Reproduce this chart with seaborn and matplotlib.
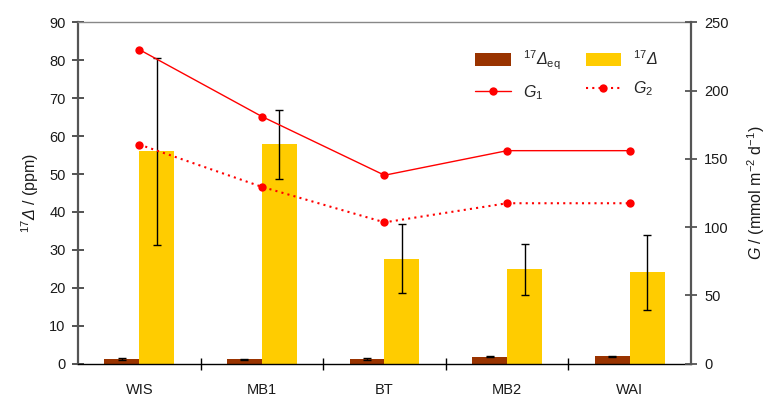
import numpy as np
import pandas as pd
import matplotlib
matplotlib.use("Agg")
import matplotlib.pyplot as plt
from matplotlib.patches import Patch
from matplotlib.lines import Line2D
import seaborn as sns

# ---- data ----
categories = ["WIS", "MB1", "BT", "MB2", "WAI"]
d17_eq = [1.25, 1.15, 1.25, 1.8, 1.95]
d17_eq_err = [0.35, 0.05, 0.35, 0.12, 0.12]
d17 = [56.0, 57.8, 27.7, 24.9, 24.1]
d17_err = [24.6, 9.1, 9.1, 6.7, 9.9]
G1 = [230, 181, 138, 156, 156]
G2 = [160.5, 129.5, 103.5, 117.5, 117.5]

sns.set_theme(style="white")
plt.rcParams["font.family"] = ["Liberation Sans", "DejaVu Sans"]
plt.rcParams["mathtext.fontset"] = "custom"
plt.rcParams["mathtext.rm"] = "Liberation Sans"
plt.rcParams["mathtext.it"] = "Liberation Sans:italic"
plt.rcParams["mathtext.sf"] = "Liberation Sans:italic"
plt.rcParams["mathtext.bf"] = "Liberation Sans:bold"

BROWN = "#993300"
YELLOW = "#FFCC00"
RED = "#FF0000"
TXT = "#1a1a1a"

df = pd.DataFrame({
    "site": categories * 2,
    "series": ["eq"] * len(categories) + ["d17"] * len(categories),
    "value": d17_eq + d17,
})

fig = plt.figure(figsize=(7.68, 3.99), dpi=100)
ax = fig.add_axes([0.1016, 0.0885, 0.7981, 0.8556])

sns.barplot(data=df, x="site", y="value", hue="series",
            palette={"eq": BROWN, "d17": YELLOW}, width=0.57,
            errorbar=None, legend=False, ax=ax, saturation=1,
            linewidth=0)

x = np.arange(len(categories))
half = 0.57 / 4
ax.errorbar(x - half, d17_eq, yerr=d17_eq_err, fmt="none", ecolor="black",
            elinewidth=1, capsize=3.2, capthick=1, zorder=5)
ax.errorbar(x + half, d17, yerr=d17_err, fmt="none", ecolor="black",
            elinewidth=1, capsize=3.2, capthick=1, zorder=5)

ax.set_xlim(-0.5, len(categories) - 0.5)
ax.set_ylim(0, 90)
ax.set_yticks(np.arange(0, 91, 10))
ax.set_xticks(np.arange(len(categories) - 1) + 0.5)
ax.set_xticklabels([])
ax.set_xticks(x, minor=True)
ax.set_xticklabels(categories, minor=True)
ax.tick_params(axis="x", which="major", direction="inout", length=8, width=1,
               color="black", bottom=True)
ax.tick_params(axis="x", which="minor", length=0, pad=14, labelsize=10.5,
               labelcolor=TXT, bottom=True)
ax.tick_params(axis="y", direction="inout", length=8, width=1.3,
               color="#444444", left=True, labelsize=10.5, pad=5,
               labelcolor=TXT)
ax.set_xlabel("")
ax.set_ylabel(r"$^{17}\mathsf{Δ}$ / (ppm)", fontsize=11.5, labelpad=6,
              color=TXT)

ax.spines["left"].set_color("#555555")
ax.spines["left"].set_linewidth(1.6)
ax.spines["bottom"].set_color("black")
ax.spines["bottom"].set_linewidth(1)
ax.spines["top"].set_color("#888888")
ax.spines["top"].set_linewidth(1)
ax.spines["right"].set_visible(False)

ax2 = ax.twinx()
sns.lineplot(x=x, y=G1, ax=ax2, color=RED, linewidth=1, marker="o",
             markersize=6, markeredgewidth=0, legend=False)
sns.lineplot(x=x, y=G2, ax=ax2, color=RED, linewidth=1.5, marker="o",
             markersize=6, markeredgewidth=0, legend=False)
ax2.lines[1].set_linestyle((0, (1, 2)))
ax2.set_ylim(0, 250)
ax2.set_yticks(np.arange(0, 251, 50))
ax2.set_xlim(-0.5, len(categories) - 0.5)
ax2.tick_params(axis="y", direction="inout", length=9, width=1.3,
                color="#555555", right=True, labelsize=10.5, pad=5,
                labelcolor=TXT)
ax2.set_ylabel(r"$\mathit{G}$ / (mmol m$^{-2}$ d$^{-1}$)", fontsize=11.5,
               labelpad=12, color=TXT)
for s in ["left", "top", "bottom"]:
    ax2.spines[s].set_visible(False)
ax2.spines["right"].set_color("#555555")
ax2.spines["right"].set_linewidth(1.6)

handles = [
    Patch(facecolor=BROWN, edgecolor="none"),
    Line2D([], [], color=RED, lw=1, marker="o", markersize=6, markeredgewidth=0),
    Patch(facecolor=YELLOW, edgecolor="none"),
    Line2D([], [], color=RED, lw=1.5, ls=(0, (1, 2)), marker="o",
           markersize=6, markeredgewidth=0),
]
labels = [r"$^{17}\mathsf{Δ}_{\mathrm{eq}}$", r"$\mathit{G}_1$",
          r"$^{17}\mathsf{Δ}$", r"$\mathit{G}_2$"]
ax2.legend(handles, labels, ncol=2, frameon=False, fontsize=11.5,
           loc="upper left", bbox_to_anchor=(0.625, 0.965),
           handlelength=2.2, handleheight=0.9, labelspacing=0.72,
           columnspacing=1.6, handletextpad=0.75)

fig.savefig("out.png", dpi=100)
